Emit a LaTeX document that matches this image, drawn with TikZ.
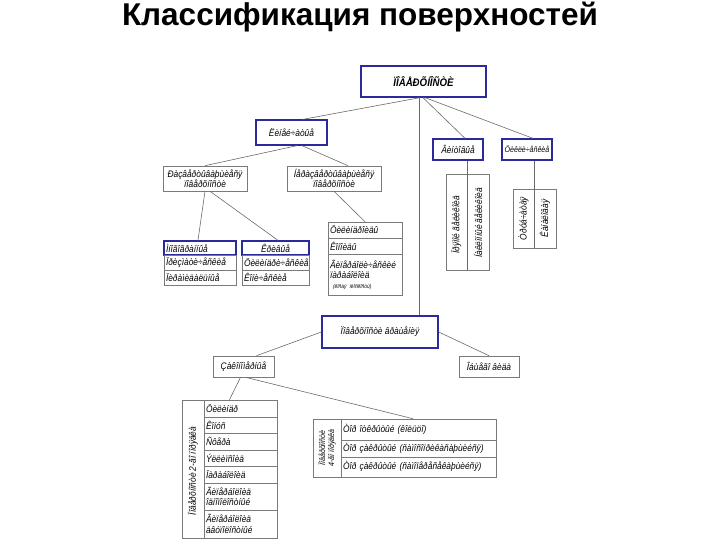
\documentclass[tikz,border=0pt]{standalone}
\usepackage{fontspec}
\setmainfont{Liberation Sans}
\newfontfamily\nf{Liberation Sans}[FakeStretch=0.88]
\usetikzlibrary{calc}
\definecolor{boxblue}{HTML}{2A2A9C}
\definecolor{boxgray}{HTML}{7A7A7A}
\definecolor{linegray}{HTML}{6A6A6A}
\tikzset{
  base/.style={inner sep=0pt, fill=white, font=\nf\itshape\fontsize{9.5}{10.5}\selectfont, align=center},
  bluebox/.style={base, draw=boxblue, line width=1.3pt},
  graybox/.style={base, draw=boxgray, line width=0.6pt},
  leftbox/.style={graybox, inner xsep=2pt, align=left},
  conn/.style={draw=linegray, line width=0.6pt},
  vtext/.style={inner sep=0pt, rotate=90, font=\nf\itshape\fontsize{9.5}{10.5}\selectfont, align=center},
}
\begin{document}
\begin{tikzpicture}[x=1pt,y=-1pt]
\useasboundingbox (0,0) rectangle (720,540);
\node[font=\bfseries\fontsize{31.5}{33}\selectfont] (title) at (360,17) {Классификация поверхностей};

% level 0-1
\node[bluebox, minimum width=125, minimum height=31, font=\nf\bfseries\itshape\fontsize{11}{12}\selectfont] (top) at (423.5,81.5) {ÏÎÂÅÐÕÍÎÑÒÈ};
\node[bluebox, minimum width=71, minimum height=25] (lin) at (291.5,132.5) {Ëèíåé÷àòûå};
\node[bluebox, minimum width=50, minimum height=21] (vint) at (458,149.5) {Âèíòîâûå};
\node[bluebox, minimum width=50, minimum height=21, font=\nf\itshape\fontsize{8}{9}\selectfont] (cyc) at (527,149.5) {Öèêëè÷åñêèå};

% developable / non-developable
\node[graybox, minimum width=84, minimum height=25] (razv) at (205,178.5) {Ðàçâåðòûâàþùèåñÿ\\ïîâåðõíîñòè};
\node[graybox, minimum width=94, minimum height=25] (nerazv) at (334,178.5) {Íåðàçâåðòûâàþùèåñÿ\\ïîâåðõíîñòè};

% polyhedral group
\node[bluebox, inner xsep=2pt, align=left, text width=68, minimum height=14] (mn0) at (200,248) {Ìíîãîãðàííûå};
\node[leftbox, text width=68, minimum height=15] (mn1) at (200,262.5) {Ïðèçìàòè÷åñêèå};
\node[leftbox, text width=68, minimum height=15] (mn2) at (200,277.5) {Ïèðàìèäàëüíûå};

% curved group
\node[bluebox, minimum width=67, minimum height=14] (kr0) at (275.5,248) {Êðèâûå};
\node[leftbox, text width=63, minimum height=15] (kr1) at (275.5,262.5) {Öèëèíäðè÷åñêèå};
\node[leftbox, text width=63, minimum height=15] (kr2) at (275.5,277.5) {Êîíè÷åñêèå};

% non-developable group
\node[leftbox, text width=70, minimum height=16] (nt1) at (365,230) {Öèëèíäðîèäû};
\node[leftbox, text width=70, minimum height=16] (nt2) at (365,246) {Êîíîèäû};
\node[leftbox, text width=70, minimum height=41] (nt3) at (365,274.5) {Ãèïåðáîëè÷åñêèé\\ïàðàáîëîèä\\[-1pt]{\fontsize{5.5}{6}\selectfont\hspace*{3pt}(êîñàÿ ïëîñêîñòü)}};

% helical table
\node[graybox, minimum width=43, minimum height=96] (vt) at (467.5,222) {};
\node[vtext] (vt1) at (456.5,225) {Ïðÿìîé ãåëèêîèä};
\node[vtext] (vt2) at (478,223) {Íàêëîííûé ãåëèêîèä};

% cyclic table
\node[graybox, minimum width=43, minimum height=59] (ct) at (534.5,218.5) {};
\node[vtext] (ct1) at (523.5,218.5) {Òðóá÷àòàÿ};
\node[vtext] (ct2) at (545,218.5) {Êàíàëîâàÿ};

% surfaces of revolution
\node[bluebox, minimum width=116, minimum height=32] (vr) at (380,332) {Ïîâåðõíîñòè âðàùåíèÿ};
\node[graybox, minimum width=61, minimum height=21] (zak) at (243.5,366.5) {Çàêîíîìåðíûå};
\node[graybox, minimum width=60, minimum height=21] (ob) at (489,366.5) {Îáùåãî âèäà};

% second order table
\node[graybox, minimum width=95, minimum height=138] (t2) at (229.5,469) {};
\node[graybox, minimum width=22, minimum height=138] (t2l) at (193,469) {};
\node[vtext] (t2v) at (193,471) {Ïîâåðõíîñòè 2-ãî ïîðÿäêà};
\node[leftbox, text width=69, minimum height=17] (r1) at (240.5,408.5) {Öèëèíäð};
\node[leftbox, text width=69, minimum height=16] (r2) at (240.5,425) {Êîíóñ};
\node[leftbox, text width=69, minimum height=17] (r3) at (240.5,441.5) {Ñôåðà};
\node[leftbox, text width=69, minimum height=16] (r4) at (240.5,458) {Ýëëèïñîèä};
\node[leftbox, text width=69, minimum height=17] (r5) at (240.5,474.5) {Ïàðàáîëîèä};
\node[leftbox, text width=69, minimum height=27] (r6) at (240.5,496.5) {Ãèïåðáîëîèä\\îäíîïîëîñòíûé};
\node[leftbox, text width=69, minimum height=28] (r7) at (240.5,524) {Ãèïåðáîëîèä\\äâóïîëîñòíûé};

% fourth order table
\node[graybox, minimum width=183, minimum height=58] (t4) at (404.5,448) {};
\node[graybox, minimum width=28, minimum height=58] (t4l) at (327,448) {};
\node[vtext, font=\nf\itshape\fontsize{8}{9}\selectfont] (t4v) at (327,448) {Ïîâåðõíîñòè\\4-ãî ïîðÿäêà};
\node[leftbox, text width=151, minimum height=21] (q1) at (418.5,429.5) {Òîð îòêðûòûé (êîëüöî)};
\node[leftbox, text width=151, minimum height=17] (q2) at (418.5,448.5) {Òîð çàêðûòûé (ñàìîñîïðèêàñàþùèéñÿ)};
\node[leftbox, text width=151, minimum height=20] (q3) at (418.5,467) {\raisebox{4pt}{Òîð çàêðûòûé (ñàìîïåðåñåêàþùèéñÿ)}};

% connectors
\draw[conn] ([xshift=-3.5]top.south) -- ([xshift=11.5]lin.north);
\draw[conn] ([xshift=-0.5]top.south) -- ([xshift=7]vint.north);
\draw[conn] ([xshift=1.5]top.south) -- ([xshift=6]cyc.north);
\draw[conn] ([xshift=-4.5]top.south) -- ([xshift=-4.5]top.south |- vr.north);
\draw[conn] ([xshift=5.5]lin.south) -- (razv.north);
\draw[conn] ([xshift=10.5]lin.south) -- ([xshift=14]nerazv.north);
\draw[conn] ([xshift=9.5]vint.south) -- (vt.south);
\draw[conn] ([xshift=7.5]cyc.south) -- (ct.south);
\draw[conn] (razv.south) -- ([xshift=-2]mn0.north);
\draw[conn] ([xshift=5]razv.south) -- ([xshift=2.5]kr0.north);
\draw[conn] (nerazv.south) -- (nt1.north);
\draw[conn] (vr.west) -- ([xshift=13]zak.north);
\draw[conn] (vr.east) -- (ob.north);
\draw[conn] ([xshift=-3]zak.south) -- (t2.north);
\draw[conn] ([xshift=2]zak.south) -- ([xshift=8.5]t4.north);
\end{tikzpicture}
\end{document}
